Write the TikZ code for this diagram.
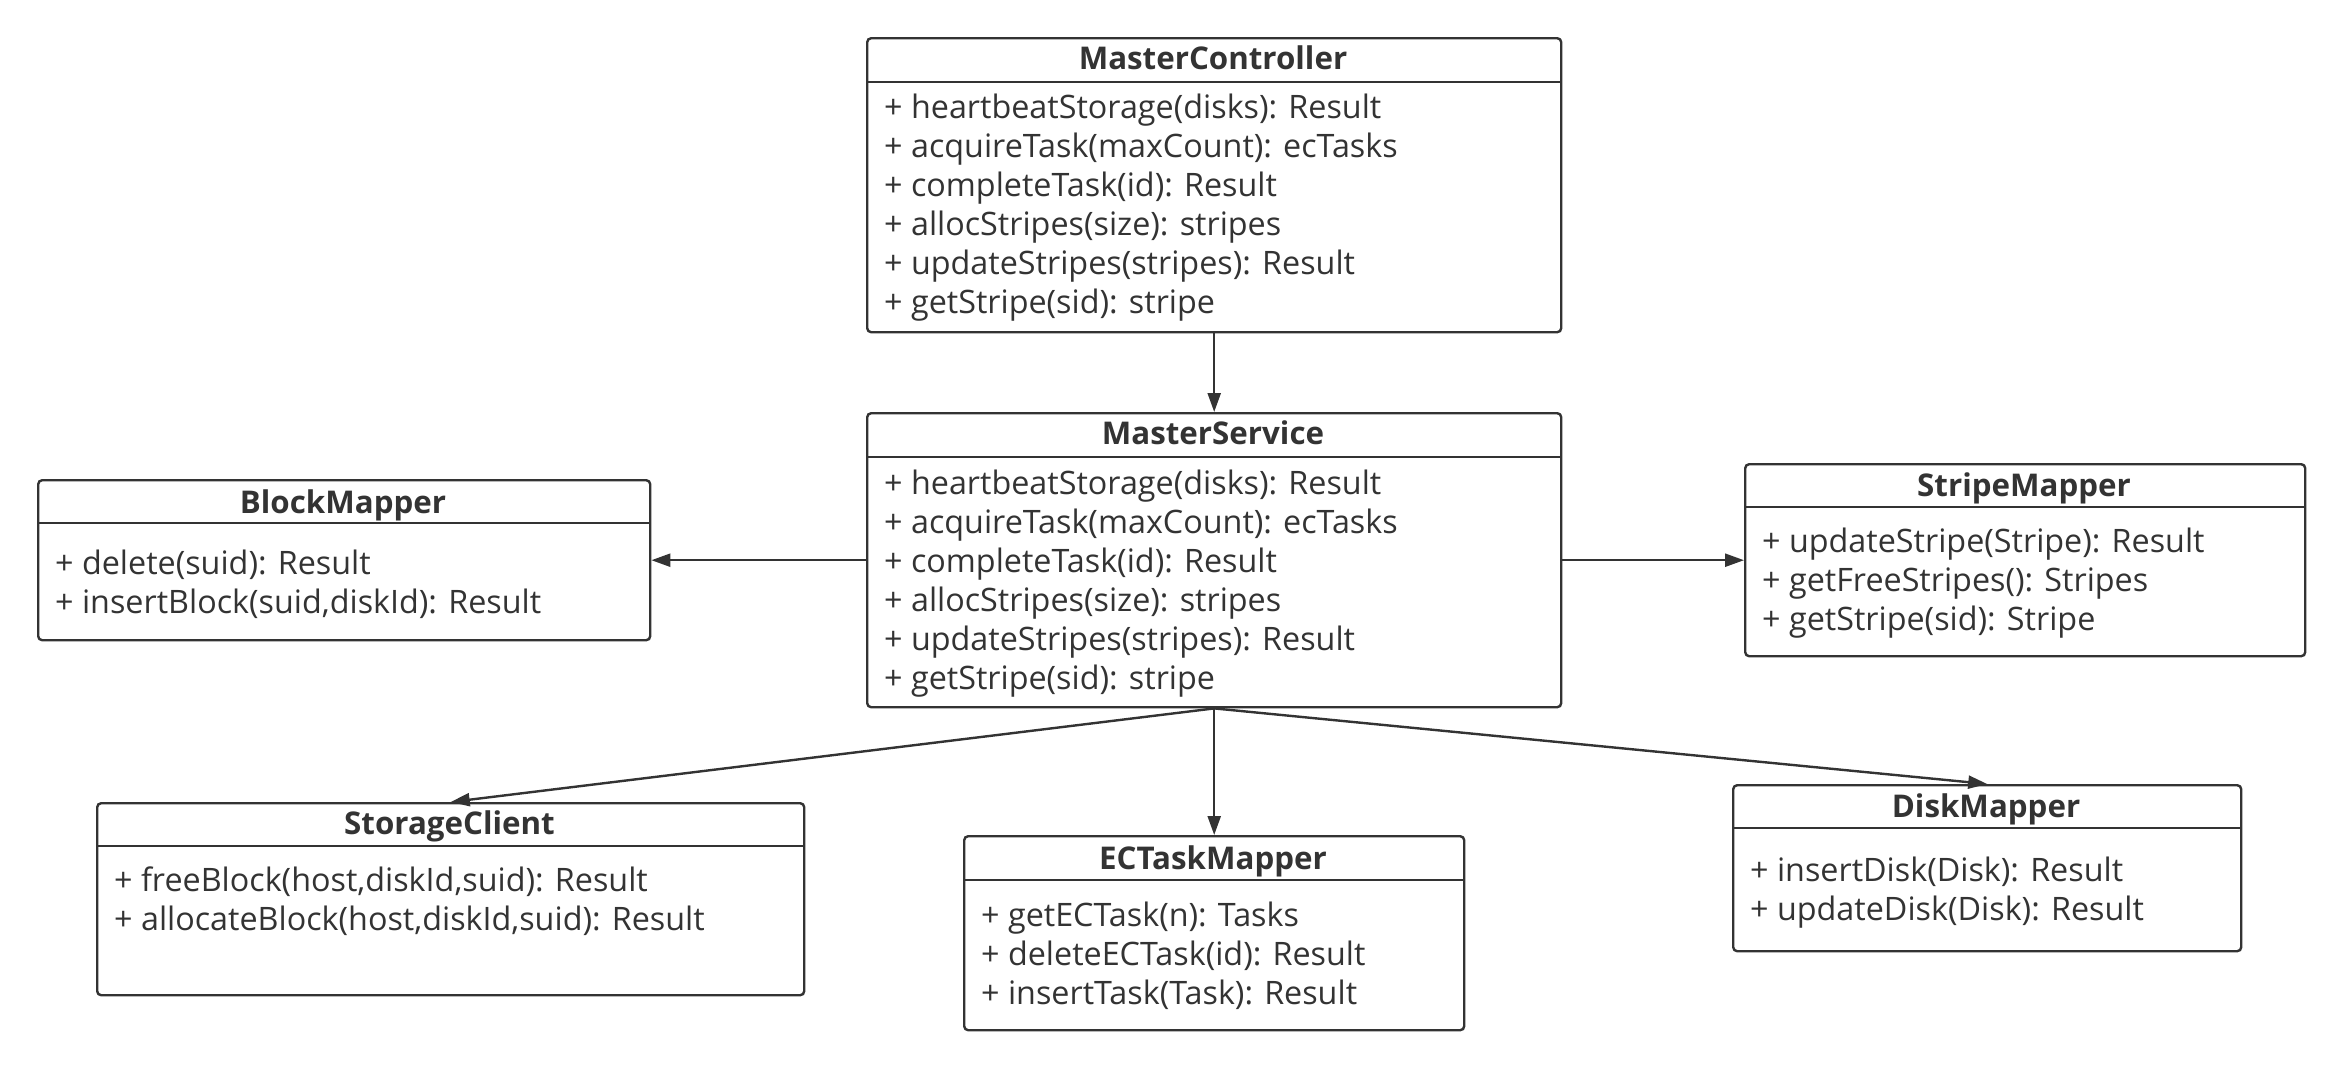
\documentclass[tikz,border=0pt]{standalone}
\usepackage{fontspec}
\setmainfont{Open Sans}
\usetikzlibrary{arrows.meta}
\definecolor{ink}{HTML}{333333}
\newcommand\umlmembers[4]{%
  \foreach \t [count=\i] in {#4} {\node[member] (#1\i) at (#2, {#3+39*(\i-1)}) {\t};}}
\begin{document}
\begin{tikzpicture}[x=1pt,y=-1pt,
  classbox/.style={draw=ink, line width=2.4pt, rounded corners=4pt, fill=white, anchor=north west, inner sep=0pt},
  ctitle/.style={font=\fontsize{31.3}{39}\selectfont\bfseries, text=ink, inner sep=0pt, anchor=base},
  member/.style={font=\fontsize{32.3}{39}\selectfont, text=ink, inner sep=0pt, anchor=base west},
  sepline/.style={draw=ink, line width=2.4pt},
  conn/.style={draw=ink, line width=2.4pt, -{Triangle[length=19pt,width=13pt]}}]
\fill[white] (0,0) rectangle (2341,1066);
\useasboundingbox (0,0) rectangle (2341,1066);

% MasterController
\node[classbox, minimum width=694pt, minimum height=294pt] (mc) at (866,37) {};
\node[ctitle] (mcT) at (1213,69.5) {MasterController};
\draw[sepline] (866,82) -- (1560,82);
\umlmembers{mcM}{884}{118.5}{+ heartbeatStorage(disks): Result, + acquireTask(maxCount): ecTasks, + completeTask(id): Result, + allocStripes(size): stripes, + updateStripes(stripes): Result, + getStripe(sid): stripe}

% MasterService
\node[classbox, minimum width=694pt, minimum height=294pt] (ms) at (866,412) {};
\node[ctitle] (msT) at (1213,444.5) {MasterService};
\draw[sepline] (866,457) -- (1560,457);
\umlmembers{msM}{884}{494}{+ heartbeatStorage(disks): Result, + acquireTask(maxCount): ecTasks, + completeTask(id): Result, + allocStripes(size): stripes, + updateStripes(stripes): Result, + getStripe(sid): stripe}

% BlockMapper
\node[classbox, minimum width=612pt, minimum height=160pt] (bm) at (37,479) {};
\node[ctitle] (bmT) at (343,513) {BlockMapper};
\draw[sepline] (37,523) -- (649,523);
\umlmembers{bmM}{55}{574}{+ delete(suid): Result, {+ insertBlock(suid,diskId): Result}}

% StripeMapper
\node[classbox, minimum width=560pt, minimum height=192pt] (sm) at (1744,463) {};
\node[ctitle] (smT) at (2024,496) {StripeMapper};
\draw[sepline] (1744,507) -- (2304,507);
\umlmembers{smM}{1762}{552}{+ updateStripe(Stripe): Result, + getFreeStripes(): Stripes, + getStripe(sid): Stripe}

% StorageClient
\node[classbox, minimum width=707pt, minimum height=192pt] (sc) at (96,802) {};
\node[ctitle] (scT) at (449.5,834) {StorageClient};
\draw[sepline] (96,846) -- (803,846);
\umlmembers{scM}{114}{891}{{+ freeBlock(host,diskId,suid): Result}, {+ allocateBlock(host,diskId,suid): Result}}

% ECTaskMapper
\node[classbox, minimum width=500pt, minimum height=194pt] (ec) at (963,835) {};
\node[ctitle] (ecT) at (1213,869) {ECTaskMapper};
\draw[sepline] (963,880) -- (1463,880);
\umlmembers{ecM}{981}{926}{+ getECTask(n): Tasks, + deleteECTask(id): Result, + insertTask(Task): Result}

% DiskMapper
\node[classbox, minimum width=508pt, minimum height=166pt] (dm) at (1732,784) {};
\node[ctitle] (dmT) at (1986,817.5) {DiskMapper};
\draw[sepline] (1732,828) -- (2240,828);
\umlmembers{dmM}{1750}{881}{+ insertDisk(Disk): Result, + updateDisk(Disk): Result}

% connectors
\draw[conn] (mc.south) -- (ms.north);
\draw[conn] (ms.west) -- (bm.east);
\draw[conn] (ms.east) -- (sm.west);
\draw[conn] (ms.south) -- (sc.north);
\draw[conn] (ms.south) -- (ec.north);
\draw[conn] (ms.south) -- (dm.north);
\end{tikzpicture}
\end{document}
